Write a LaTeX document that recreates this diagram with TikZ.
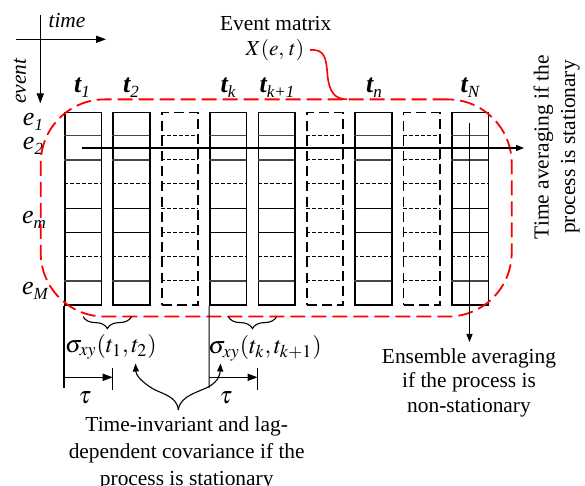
\documentclass[tikz,border=0pt]{standalone}
\usepackage{mathptmx}
\usepackage{fontspec}
\setmainfont{Liberation Serif}
\usetikzlibrary{arrows.meta,decorations.pathreplacing,calc}
\newcommand\lsub[1]{\raisebox{-0.45ex}{\fontsize{8.5}{9}\selectfont\itshape #1}}
\begin{document}
\begin{tikzpicture}[x=0.5pt,y=-0.5pt,
  colbox/.style={draw, line width=0.9pt, minimum width=18.25pt, minimum height=96.3pt, inner sep=0pt, anchor=north west},
  dcolbox/.style={colbox, dash pattern=on 5pt off 2.6pt},
  gline/.style={line width=0.6pt, gray!55!black},
  bline/.style={line width=0.6pt, black},
  dline/.style={line width=0.5pt, black, dash pattern=on 2pt off 1pt},
  txt/.style={font=\fontsize{10.7}{13.3}\selectfont, align=center, inner sep=0pt},
  tlab/.style={font=\fontsize{13}{15}\selectfont, inner sep=0pt},
  arr/.style={line width=0.55pt, -{Triangle[length=5pt,width=3.6pt]}},
  sarr/.style={line width=0.55pt, -{Triangle[length=4pt,width=3pt]}},
  reddash/.style={draw=red, line width=0.9pt, dash pattern=on 7.5pt off 3pt},
  bracedec/.style={decorate, line width=0.55pt, decoration={brace, mirror, amplitude=6pt}}
]
\useasboundingbox (0,0) rectangle (585,486);

% axes
\coordinate (hx0) at (16,39.3);
\coordinate (hx1) at (106,39.3);
\coordinate (vy0) at (40.3,15);
\coordinate (vy1) at (40.3,103.3);
\draw[arr] (hx0) -- (hx1);
\draw[arr] (vy0) -- (vy1);
\node[txt, font=\fontsize{10.7}{13}\selectfont\itshape] (time) at (67,21) {time};
\node[txt, font=\fontsize{10.7}{13}\selectfont\itshape, rotate=90] (event) at (20,81) {event};

% columns
\foreach \i/\s in {0/colbox,1/colbox,2/dcolbox,3/colbox,4/colbox,5/dcolbox,6/colbox,7/dcolbox,8/colbox}{
  \node[\s] (c\i) at ({64+48.375*\i},111.7) {};
}
\foreach \i in {0,1,3,4,6,8}{
  \foreach \yy/\st in {135.7/gline,160/gline,184/dline,208.3/bline,232.3/bline,256.7/dline,281/gline}{
    \draw[\st] ({64+48.375*\i},\yy) -- ({64+48.375*\i+36.5},\yy);
  }
}
\foreach \i in {2,5,7}{
  \foreach \yy in {135.7,160,184,208.3,232.3,256.7,281}{
    \draw[dline] ({64+48.375*\i},\yy) -- ({64+48.375*\i+36.5},\yy);
  }
}

% column labels
\node[tlab] (t1) at (82,88) {{\bfseries\itshape t}\lsub{1}};
\node[tlab] (t2) at (131,88) {{\bfseries\itshape t}\lsub{2}};
\node[tlab] (tk) at (228,88) {{\bfseries\itshape t}\lsub{k}};
\node[tlab] (tk1) at (277,88) {{\bfseries\itshape t}\lsub{k+1}};
\node[tlab] (tn) at (374,88) {{\bfseries\itshape t}\lsub{n}};
\node[tlab] (tN) at (470,88) {{\bfseries\itshape t}\lsub{N}};

% row labels
\node[tlab] (e1) at (33,122) {{\itshape e}\lsub{1}};
\node[tlab] (e2) at (33,146) {{\itshape e}\lsub{2}};
\node[tlab] (em) at (34,220) {{\itshape e}\lsub{m}};
\node[tlab] (eM) at (35,291) {{\itshape e}\lsub{M}};

% event matrix outline
\node[reddash, rounded corners=32pt, minimum width=235.5pt, minimum height=108.6pt, inner sep=0pt] (emat) at (276.2,208) {};
\node[txt] (evm) at (275.7,23.5) {Event matrix};
\node[txt] (xet) at (275,50) {$X(e,\,t)$};
\coordinate (xs) at (310,50);
\coordinate (xend) at (347,99.3);
\draw[red, line width=0.8pt] (xs) .. controls (325,49) and (326,58) .. (327.5,75) .. controls (329,92) and (335,99.3) .. (xend);

% averaging arrows
\coordinate (ha0) at (82.3,148);
\coordinate (ha1) at (524,148);
\draw[sarr] (ha0) -- (ha1);
\coordinate (va0) at (469.5,123);
\coordinate (va1) at (469.5,342);
\draw[sarr] (va0) -- (va1);
\node[txt, rotate=90] (tavg) at (556.7,147) {Time averaging if the\\process is stationary};
\node[txt, font=\fontsize{10.7}{12.2}\selectfont] (eavg) at (469,382.5) {Ensemble averaging\\if the process is\\non-stationary};

% braces and covariances
\draw[bracedec] ($(c0.south)+(0,10.5)$) -- ($(c1.south)+(0,10.5)$);
\draw[bracedec] ($(c3.south)+(0,10.5)$) -- ($(c4.south)+(0,10.5)$);
\node[txt, font=\fontsize{12}{14}\selectfont] (s1) at (111,347) {$\sigma_{xy}(t_1,t_2)$};
\node[txt, font=\fontsize{12}{14}\selectfont] (s2) at (265,348.5) {$\sigma_{xy}(t_k,t_{k+1})$};

% lag markers
\coordinate (l0a) at (64,388);
\draw[line width=0.55pt] (c0.south west) -- (l0a);
\coordinate (l3a) at (209.1,388);
\draw[line width=0.55pt] (c3.south west) -- (l3a);
\coordinate (k1a) at (112.7,368); \coordinate (k1b) at (112.7,390);
\coordinate (k2a) at (257.5,368); \coordinate (k2b) at (257.5,390);
\draw[line width=0.55pt] (k1a) -- (k1b);
\draw[line width=0.55pt] (k2a) -- (k2b);
\coordinate (ta0) at (64,377.3); \coordinate (ta1) at (112.7,377.3);
\coordinate (tb0) at (209.1,377.3); \coordinate (tb1) at (257.5,377.3);
\draw[arr] (ta0) -- (ta1);
\draw[arr] (tb0) -- (tb1);
\node[txt, font=\fontsize{12}{14}\selectfont] (tau1) at (85,398) {$\tau$};
\node[txt, font=\fontsize{12}{14}\selectfont] (tau2) at (226,398) {$\tau$};

% curved arrows to covariances
\coordinate (fork) at (178.3,410);
\coordinate (s1t) at (135.5,363.5);
\coordinate (s2t) at (220.5,363.5);
\draw[sarr] (fork) .. controls (177,395) and (160,394) .. (150,387) .. controls (140,380) and (136,375) .. (s1t);
\draw[sarr] (fork) .. controls (180,395) and (200,392) .. (210,386) .. controls (218,381) and (220,375) .. (s2t);
\node[txt] (tinv) at (186.7,453.3) {Time-invariant and lag-\\dependent covariance if the\\process is stationary};
\end{tikzpicture}
\end{document}
